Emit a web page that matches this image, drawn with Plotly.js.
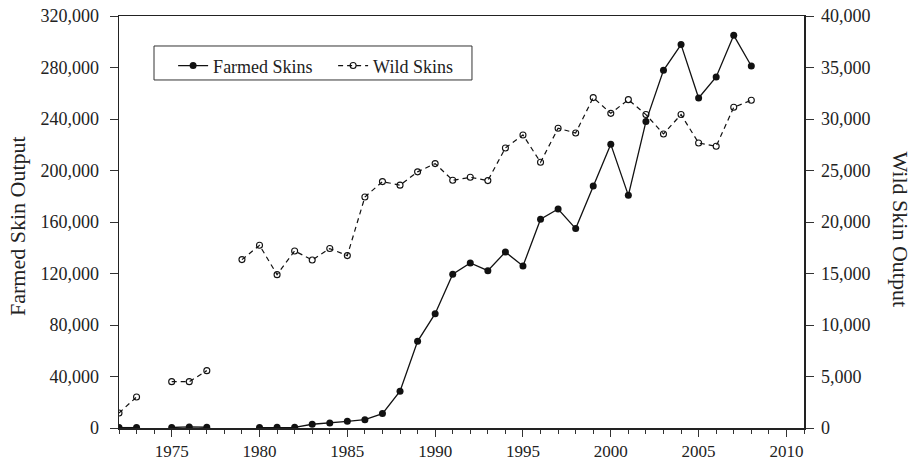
<!DOCTYPE html>
<html>
<head>
<meta charset="utf-8">
<script src="https://cdn.plot.ly/plotly-3.0.1.min.js"></script>
<style>html,body{margin:0;padding:0;background:#fff;}#chart{width:913px;height:461px;}</style>
</head>
<body>
<div id="chart"></div>
<script>
const years = [1972,1973,1974,1975,1976,1977,1978,1979,1980,1981,1982,1983,1984,1985,1986,1987,1988,1989,1990,1991,1992,1993,1994,1995,1996,1997,1998,1999,2000,2001,2002,2003,2004,2005,2006,2007,2008];
const farmedSkins = [300,300,null,400,800,600,null,null,300,500,500,2900,3900,5200,6500,11200,28600,67300,88800,119400,128200,122200,136700,125800,162100,170100,154900,188000,220300,180700,238000,277800,297800,256300,272600,305000,281200];
const wildSkins = [1460,3010,null,4500,4500,5570,null,16350,17740,14890,17190,16310,17420,16740,22430,23920,23580,24870,25670,24050,24340,24020,27190,28450,25800,29100,28640,32080,30550,31880,30430,28550,30430,27670,27350,31140,31820];
const xTickVals = [1975,1980,1985,1990,1995,2000,2005,2010];
const yLeftTicks = [0,40000,80000,120000,160000,200000,240000,280000,320000];
const yRightTicks = [0,5000,10000,15000,20000,25000,30000,35000,40000];
const seriesNames = ['Farmed Skins','Wild Skins'];
const axisTitles = {left:'Farmed Skin Output', right:'Wild Skin Output'};

const fmt = v => v.toLocaleString('en-US');
const FAM = '"Liberation Serif", "Times New Roman", serif';
const font = {family:FAM, size:18, color:'#222'};

const traces = [
  {x:years, y:farmedSkins, name:seriesNames[0], type:'scatter', mode:'lines+markers',
   connectgaps:false, yaxis:'y',
   line:{color:'#111', width:1.3}, marker:{symbol:'circle', size:7, color:'#111'}},
  {x:years, y:wildSkins, name:seriesNames[1], type:'scatter', mode:'lines+markers',
   connectgaps:false, yaxis:'y2',
   line:{color:'#111', width:1.2, dash:'5px,4px'},
   marker:{symbol:'circle-open', size:6, color:'#111', line:{width:1.1, color:'#111'}}}
];

const layout = {
  width:913, height:461,
  margin:{l:119, r:109, t:16, b:33, pad:0},
  paper_bgcolor:'#fff', plot_bgcolor:'#fff',
  font:font,
  showlegend:true,
  legend:{orientation:'h', x:0.079, y:0.879, xanchor:'left', yanchor:'middle',
    borderwidth:0, bgcolor:'rgba(0,0,0,0)', entrywidth:115, entrywidthmode:'pixels',
    font:{family:FAM, size:18, color:'#222'}, itemwidth:30, traceorder:'normal'},
  shapes:[
    {type:'rect', xref:'paper', yref:'paper', x0:0.0511, x1:0.5153, y0:0.8447, y1:0.9272,
     line:{color:'#333', width:1}, fillcolor:'rgba(0,0,0,0)', layer:'below'}
  ],
  annotations:[
    {xref:'paper', yref:'paper', x:-0.149, y:0.49, xanchor:'center', yanchor:'middle',
     text:axisTitles.left, textangle:-90, showarrow:false, font:{family:FAM, size:22, color:'#222'}},
    {xref:'paper', yref:'paper', x:1.141, y:0.483, xanchor:'center', yanchor:'middle',
     text:axisTitles.right, textangle:90, showarrow:false, font:{family:FAM, size:22, color:'#222'}}
  ],
  xaxis:{range:[1972,2011], showgrid:false, zeroline:false,
    showline:true, linecolor:'#222', linewidth:1.5, mirror:true,
    tickvals:xTickVals, ticktext:xTickVals.map(String),
    ticks:'outside', ticklen:7, tickwidth:1, tickcolor:'#333',
    minor:{dtick:1, tick0:1972, ticks:'outside', ticklen:4, tickwidth:1, tickcolor:'#333', showgrid:false},
    tickfont:{family:FAM, size:17, color:'#222'}},
  yaxis:{range:[0,320000], showgrid:false, zeroline:false,
    showline:true, linecolor:'#222', linewidth:1.5,
    tickvals:yLeftTicks, ticktext:yLeftTicks.map(fmt),
    ticks:'outside', ticklen:8, tickwidth:1, tickcolor:'#333', ticklabelstandoff:7,
    tickfont:font},
  yaxis2:{range:[0,40000], overlaying:'y', side:'right', showgrid:false, zeroline:false,
    showline:true, linecolor:'#222', linewidth:1.5,
    tickvals:yRightTicks, ticktext:yRightTicks.map(fmt),
    ticks:'outside', ticklen:8, tickwidth:1, tickcolor:'#333', ticklabelstandoff:4,
    tickfont:font}
};

Plotly.newPlot('chart', traces, layout, {displayModeBar:false, staticPlot:true});
</script>
</body>
</html>
